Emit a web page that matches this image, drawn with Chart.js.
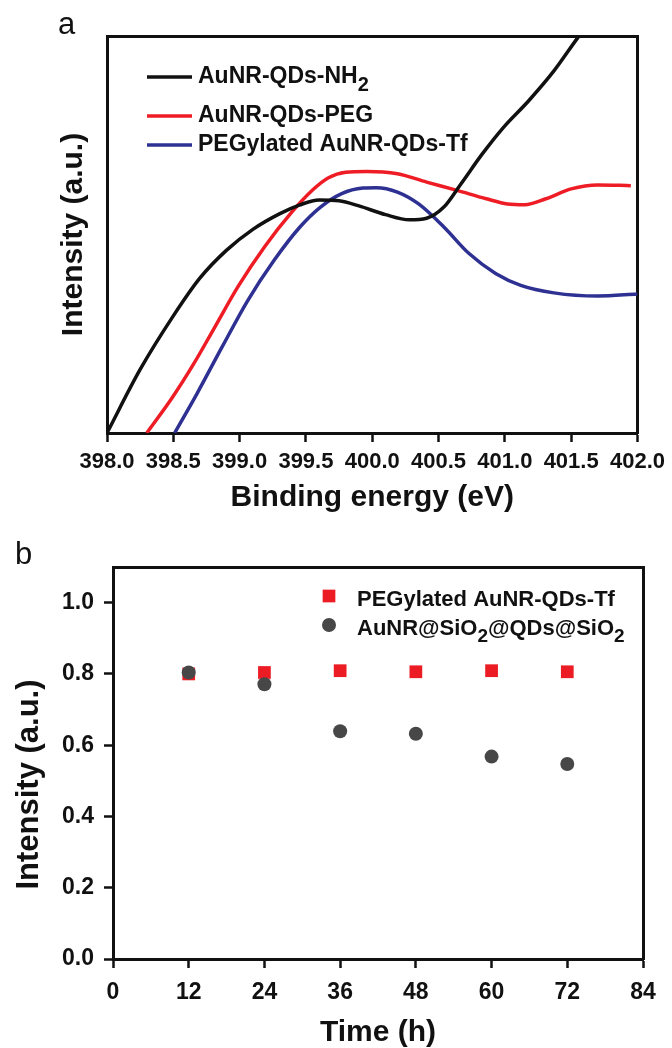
<!DOCTYPE html>
<html>
<head>
<meta charset="utf-8">
<script src="https://cdn.jsdelivr.net/npm/chart.js@4.4.1/dist/chart.umd.min.js"></script>
<style>
  html, body { margin: 0; padding: 0; background: #fff; width: 672px; height: 1048px; overflow: hidden; }
  canvas { position: absolute; left: 0; }
  #chartA { top: 0; }
  #chartB { top: 510px; }
</style>
</head>
<body>
<canvas id="chartA" width="672" height="520"></canvas>
<canvas id="chartB" width="672" height="538"></canvas>
<script>
// ---- panel a: N 1s spectra ----
const energyTicks = [398.0, 398.5, 399.0, 399.5, 400.0, 400.5, 401.0, 401.5, 402.0];

const labelNH2 = 'AuNR-QDs-NH₂';
const energyNH2 = [398.0, 398.25, 398.5, 398.7, 398.9, 399.1, 399.3, 399.45, 399.6, 399.75, 399.9, 400.1, 400.28, 400.41, 400.54, 400.67, 400.83, 400.99, 401.18, 401.37, 401.55, 401.65];
const intensityNH2 = [0, 0.160, 0.295, 0.390, 0.460, 0.513, 0.552, 0.574, 0.587, 0.585, 0.572, 0.550, 0.537, 0.541, 0.569, 0.628, 0.703, 0.770, 0.837, 0.912, 0.996, 1.04];

const labelPEG = 'AuNR-QDs-PEG';
const energyPEG = [398.30, 398.49, 398.65, 398.81, 398.99, 399.19, 399.39, 399.55, 399.67, 399.80, 399.96, 400.19, 400.41, 400.64, 400.86, 401.02, 401.15, 401.31, 401.50, 401.70, 401.95];
const intensityPEG = [0, 0.088, 0.172, 0.265, 0.370, 0.470, 0.555, 0.612, 0.643, 0.657, 0.659, 0.653, 0.632, 0.611, 0.590, 0.577, 0.575, 0.590, 0.615, 0.625, 0.623];

const labelTf = 'PEGylated AuNR-QDs-Tf';
const energyTf = [398.51, 398.68, 398.87, 399.06, 399.26, 399.45, 399.61, 399.77, 399.93, 400.03, 400.19, 400.35, 400.54, 400.73, 400.93, 401.12, 401.37, 401.70, 402.0];
const intensityTf = [0, 0.100, 0.218, 0.333, 0.435, 0.517, 0.569, 0.603, 0.617, 0.618, 0.607, 0.577, 0.519, 0.452, 0.402, 0.372, 0.353, 0.345, 0.350];

// ---- panel b: stability over time ----
const hours = [12, 24, 36, 48, 60, 72];
const hourTicks = [0, 12, 24, 36, 48, 60, 72, 84];
const intensityTicks = [0.0, 0.2, 0.4, 0.6, 0.8, 1.0];
const labelPegTf = 'PEGylated AuNR-QDs-Tf';
const pegTf = [0.800, 0.804, 0.809, 0.806, 0.809, 0.806];
const labelSiO2 = 'AuNR@SiO₂@QDs@SiO₂';
const sio2 = [0.804, 0.771, 0.639, 0.632, 0.568, 0.547];

const FONT = '"Liberation Sans", Arial, Helvetica, sans-serif';
const INK = '#111';
Chart.defaults.font.family = FONT;
Chart.defaults.color = INK;

const toPoints = (xs, ys) => xs.map((x, i) => ({ x: x, y: ys[i] }));

// draw text where unicode subscript digits become small lowered digits
const SUBS = '₀₁₂₃₄₅₆₇₈₉';
function drawRich(ctx, text, x, y, size) {
  let runs = [];
  for (const ch of text) {
    const k = SUBS.indexOf(ch);
    const sub = k >= 0;
    const c = sub ? String(k) : ch;
    if (runs.length && runs[runs.length - 1].sub === sub) runs[runs.length - 1].t += c;
    else runs.push({ sub: sub, t: c });
  }
  let cx = x;
  runs.forEach(r => {
    const s = r.sub ? Math.round(size * 0.85) : size;
    ctx.font = 'bold ' + s + 'px ' + FONT;
    ctx.fillText(r.t, cx, r.sub ? y + size * 0.33 : y);
    cx += ctx.measureText(r.t).width;
  });
}

// legend drawn inside the plot, with subscripts
const boxLegend = {
  id: 'boxLegend',
  afterDraw(chart, args, opts) {
    const ctx = chart.ctx;
    ctx.save();
    ctx.fillStyle = INK;
    ctx.textBaseline = 'alphabetic';
    chart.data.datasets.forEach((ds, i) => {
      const y = opts.rows[i];
      if (opts.kind === 'line') {
        ctx.strokeStyle = ds.borderColor;
        ctx.lineWidth = ds.borderWidth;
        ctx.beginPath();
        ctx.moveTo(opts.x0, y);
        ctx.lineTo(opts.x1, y);
        ctx.stroke();
      } else {
        ctx.fillStyle = ds.backgroundColor;
        ctx.strokeStyle = ds.backgroundColor;
        Chart.helpers.drawPoint(ctx, { pointStyle: ds.pointStyle, radius: ds.pointRadius, rotation: 0, borderWidth: 0 }, (opts.x0 + opts.x1) / 2, y);
      }
      ctx.fillStyle = INK;
      drawRich(ctx, ds.label, opts.textX, y + opts.baseShift, opts.size);
    });
    // panel letter
    ctx.font = opts.tagSize + 'px ' + FONT;
    ctx.fillText(opts.tag, opts.tagX, opts.tagY);
    ctx.restore();
  }
};

function frameAxis(pos, min, max) {
  return {
    type: 'linear', position: pos, min: min, max: max, display: true,
    grid: { display: false }, ticks: { display: false },
    border: { display: true, width: 3, color: INK },
    afterFit: s => { if (pos === 'top') s.height = 0; else s.width = 0; }
  };
}

// ---- chart a ----
new Chart(document.getElementById('chartA'), {
  type: 'line',
  data: {
    datasets: [
      { label: labelNH2, data: toPoints(energyNH2, intensityNH2), borderColor: '#111111', borderWidth: 3.5 },
      { label: labelPEG, data: toPoints(energyPEG, intensityPEG), borderColor: '#ee1c25', borderWidth: 3.5 },
      { label: labelTf, data: toPoints(energyTf, intensityTf), borderColor: '#2e3192', borderWidth: 3.5 }
    ]
  },
  options: {
    responsive: false,
    animation: false,
    events: [],
    layout: { padding: { top: 36, right: 32, left: 0, bottom: 0 } },
    elements: { point: { radius: 0 }, line: { cubicInterpolationMode: 'monotone', fill: false } },
    plugins: {
      legend: { display: false },
      tooltip: { enabled: false },
      boxLegend: { kind: 'line', x0: 147, x1: 192, rows: [77, 116, 145], textX: 198, baseShift: 6, size: 23,
                   tag: 'a', tagX: 58, tagY: 34, tagSize: 31 }
    },
    scales: {
      x: {
        type: 'linear', position: 'bottom', min: 398, max: 402,
        afterBuildTicks: s => { s.ticks = energyTicks.map(v => ({ value: v })); },
        afterFit: s => { s.height = 87; },
        grid: { display: true, drawOnChartArea: false, drawTicks: true, tickLength: 9, tickWidth: 2.5, tickColor: INK },
        border: { display: true, width: 3, color: INK },
        ticks: { autoSkip: false, maxRotation: 0, padding: 7, color: INK, font: { size: 22, weight: 'bold' },
                 callback: v => v.toFixed(1) },
        title: { display: true, text: 'Binding energy (eV)', color: INK, font: { size: 30, weight: 'bold', lineHeight: 1.2 },
                 padding: { top: 0, bottom: 4 } }
      },
      y: {
        type: 'linear', position: 'left', min: 0, max: 1,
        afterFit: s => { s.width = 107; },
        grid: { display: false },
        border: { display: true, width: 3, color: INK },
        ticks: { display: false },
        title: { display: true, text: 'Intensity (a.u.)', color: INK, font: { size: 30, weight: 'bold', lineHeight: 1.2 },
                 padding: { top: 56, bottom: 0 } }
      },
      x2: frameAxis('top', 398, 402),
      y2: frameAxis('right', 0, 1)
    }
  },
  plugins: [boxLegend]
});

// ---- chart b ----
new Chart(document.getElementById('chartB'), {
  type: 'scatter',
  data: {
    datasets: [
      { label: labelPegTf, data: toPoints(hours, pegTf), order: 1, pointStyle: 'rect', pointRadius: 9,
        backgroundColor: '#ec1c24', borderColor: '#ec1c24', borderWidth: 0 },
      { label: labelSiO2, data: toPoints(hours, sio2), order: 0, pointStyle: 'circle', pointRadius: 7,
        backgroundColor: '#474747', borderColor: '#474747', borderWidth: 0 }
    ]
  },
  options: {
    responsive: false,
    animation: false,
    events: [],
    layout: { padding: { top: 57, right: 29, left: 0, bottom: 0 } },
    plugins: {
      legend: { display: false },
      tooltip: { enabled: false },
      boxLegend: { kind: 'point', x0: 322, x1: 336, rows: [86, 115], textX: 357, baseShift: 10, size: 22,
                   tag: 'b', tagX: 15, tagY: 54, tagSize: 31 }
    },
    scales: {
      x: {
        type: 'linear', position: 'bottom', min: 0, max: 84,
        afterBuildTicks: s => { s.ticks = hourTicks.map(v => ({ value: v })); },
        afterFit: s => { s.height = 89; },
        grid: { display: true, drawOnChartArea: false, drawTicks: true, tickLength: 9, tickWidth: 2.5, tickColor: INK },
        border: { display: true, width: 3, color: INK },
        ticks: { autoSkip: false, maxRotation: 0, padding: 11, color: INK, font: { size: 23, weight: 'bold' },
                 callback: v => String(v) },
        title: { display: true, text: 'Time (h)', color: INK, font: { size: 30, weight: 'bold', lineHeight: 1 },
                 padding: { top: 0, bottom: 0 } }
      },
      y: {
        type: 'linear', position: 'left', min: 0, max: 1.1,
        afterBuildTicks: s => { s.ticks = intensityTicks.map(v => ({ value: v })); },
        afterFit: s => { s.width = 113; },
        grid: { display: true, drawOnChartArea: false, drawTicks: true, tickLength: 9, tickWidth: 2.5, tickColor: INK },
        border: { display: true, width: 3, color: INK },
        ticks: { padding: 10, color: INK, font: { size: 23, weight: 'bold' }, callback: v => v.toFixed(1) },
        // trailing spaces push the centred title a little lower, as in the original
        title: { display: true, text: 'Intensity (a.u.)     ', color: INK, font: { size: 31, weight: 'bold', lineHeight: 1 },
                 padding: { top: 14, bottom: 0 } }
      },
      x2: frameAxis('top', 0, 84),
      y2: frameAxis('right', 0, 1.1)
    }
  },
  plugins: [boxLegend]
});
</script>
</body>
</html>
